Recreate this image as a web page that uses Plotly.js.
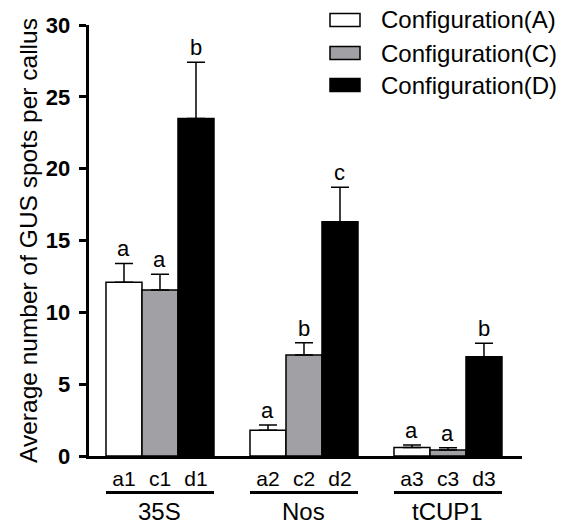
<!DOCTYPE html>
<html>
<head>
<meta charset="utf-8">
<script src="https://cdn.plot.ly/plotly-3.0.1.min.js"></script>
<style>html,body{margin:0;padding:0;background:#fff;}#chart{width:569px;height:527px;}</style>
</head>
<body>
<div id="chart"></div>
<script>
// ---- data ----
const groups = ['35S', 'Nos', 'tCUP1'];
const seriesNames = ['Configuration(A)', 'Configuration(C)', 'Configuration(D)'];
const barLabelsA = ['a1', 'a2', 'a3'];
const barLabelsC = ['c1', 'c2', 'c3'];
const barLabelsD = ['d1', 'd2', 'd3'];
const valuesA = [12.1, 1.8, 0.6];
const valuesC = [11.55, 7.03, 0.42];
const valuesD = [23.5, 16.3, 6.9];
const errorsA = [1.3, 0.35, 0.17];
const errorsC = [1.1, 0.85, 0.16];
const errorsD = [3.9, 2.4, 0.95];
const lettersA = ['a', 'a', 'a'];
const lettersC = ['a', 'b', 'a'];
const lettersD = ['b', 'c', 'b'];
const yTicks = [0, 5, 10, 15, 20, 25, 30];

// ---- styles ----
const FONT = 'Liberation Sans, Arial, Helvetica, sans-serif';
const fills = ['#ffffff', '#a1a1a5', '#000000'];
const series = [
  {name: seriesNames[0], v: valuesA, e: errorsA, l: lettersA, t: barLabelsA},
  {name: seriesNames[1], v: valuesC, e: errorsC, l: lettersC, t: barLabelsC},
  {name: seriesNames[2], v: valuesD, e: errorsD, l: lettersD, t: barLabelsD}
];
const xIdx = groups.map((g, i) => i);
const bargap = 0.25;
const barW = (1 - bargap) / series.length;
const offsetOf = s => (s - (series.length - 1) / 2) * barW;

const traces = series.map((s, si) => ({
  type: 'bar',
  name: s.name,
  x: xIdx,
  y: s.v,
  marker: {color: fills[si], line: {color: '#000', width: 1.5}},
  error_y: {type: 'data', array: s.e, arrayminus: s.e.map(() => 0), symmetric: false,
            color: '#000', thickness: 1.5, width: 9},
  showlegend: false,
  hoverinfo: 'skip'
}));

// tick labels under each bar
const tickvals = [], ticktext = [];
xIdx.forEach(gi => series.forEach((s, si) => {
  tickvals.push(gi + offsetOf(si));
  ticktext.push(s.t[gi]);
}));

const annotations = [];
const shapes = [];
// significance letters
series.forEach((s, si) => xIdx.forEach(gi => {
  annotations.push({
    x: gi + offsetOf(si), y: s.v[gi] + s.e[gi], xref: 'x', yref: 'y',
    text: s.l[gi], showarrow: false, xanchor: 'center', yanchor: 'bottom', yshift: 0,
    font: {family: FONT, size: 22, color: '#000'}
  });
}));
// group labels and underlines
const PLOT_H = 431, PLOT_W = 433, M_LEFT = 89, M_TOP = 25;
const py = p => (M_TOP + PLOT_H - p) / PLOT_H; // pixel y -> paper y
const px = p => (p - M_LEFT) / PLOT_W;        // pixel x -> paper x
groups.forEach((g, gi) => {
  shapes.push({type: 'line', xref: 'x', yref: 'paper',
    x0: gi - (1 - bargap) / 2, x1: gi + (1 - bargap) / 2, y0: py(492.5), y1: py(492.5),
    line: {color: '#000', width: 3}});
  annotations.push({x: gi, y: py(512), xref: 'x', yref: 'paper', text: g, showarrow: false,
    xanchor: 'center', yanchor: 'middle', font: {family: FONT, size: 24, color: '#000'}});
});
// legend (drawn manually)
const legRows = [20, 53, 85];
series.forEach((s, si) => {
  shapes.push({type: 'rect', xref: 'paper', yref: 'paper',
    x0: px(330), x1: px(360), y0: py(legRows[si] - 6.5), y1: py(legRows[si] + 6.5),
    fillcolor: fills[si], line: {color: '#000', width: 1.5}});
  annotations.push({x: px(379), y: py(legRows[si]), xref: 'paper', yref: 'paper',
    text: s.name, showarrow: false, xanchor: 'left', yanchor: 'middle',
    font: {family: FONT, size: 24, color: '#000'}});
});

const layout = {
  width: 569, height: 527,
  margin: {l: M_LEFT, r: 569 - M_LEFT - PLOT_W, t: M_TOP, b: 527 - M_TOP - PLOT_H},
  paper_bgcolor: '#fff', plot_bgcolor: '#fff',
  barmode: 'group', bargap: bargap, bargroupgap: 0,
  font: {family: FONT, color: '#000'},
  xaxis: {
    range: [-0.493, 2.514], showgrid: false, zeroline: false,
    showline: true, linecolor: '#000', linewidth: 3,
    tickmode: 'array', tickvals: tickvals, ticktext: ticktext,
    ticks: 'outside', ticklen: 2, tickcolor: 'rgba(0,0,0,0)',
    tickfont: {family: FONT, size: 21, color: '#000'}
  },
  yaxis: {
    range: [0, 30], showgrid: false, zeroline: false,
    showline: true, linecolor: '#000', linewidth: 3,
    tickmode: 'array', tickvals: yTicks, ticktext: yTicks.map(v => v + '\u2009'),
    ticks: 'outside', ticklen: 7, tickwidth: 3, tickcolor: '#000',
    tickfont: {family: FONT, size: 22, color: '#000', weight: 'bold'},
    title: {text: 'Average number of GUS spots per callus', standoff: 2,
            font: {family: FONT, size: 24.5, color: '#000'}}
  },
  annotations: annotations,
  shapes: shapes
};

Plotly.newPlot('chart', traces, layout, {displayModeBar: false, staticPlot: true});
</script>
</body>
</html>
